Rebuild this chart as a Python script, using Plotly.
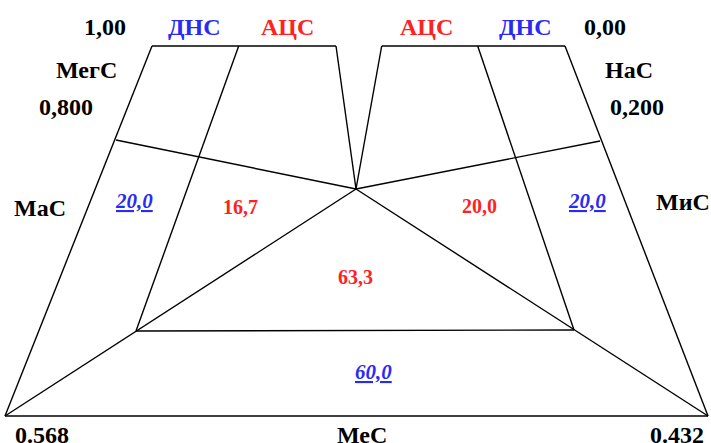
import plotly.graph_objects as go

# ---- data ----
region_names = ["ДНС-МаС", "АЦС-МаС", "АЦС-центр", "АЦС-МиС", "ДНС-МиС", "ДНС-МеС"]
region_values = [20.0, 16.7, 63.3, 20.0, 20.0, 60.0]
region_kind = ["ДНС", "АЦС", "АЦС", "АЦС", "ДНС", "ДНС"]
corner_labels = ["МегС", "НаС", "МаС", "МиС", "МеС"]
tick_labels = ["1,00", "0,800", "0,00", "0,200", "0.568", "0.432"]
header_labels = ["ДНС", "АЦС", "АЦС", "ДНС"]

# ---- geometry (diagram layout, pixel space) ----
P = {
    "TL": (152, 46), "TLm": (238.7, 46), "TLr": (336, 46),
    "TRl": (381.7, 46), "TRm": (477.7, 46), "TR": (565, 46),
    "BL": (5, 416), "BR": (708, 416), "C": (356, 189),
    "IL": (136, 331), "IR": (574, 330),
    "ML": (116, 140), "MR": (600, 141),
}
segments = [
    ("TL", "TLr"), ("TRl", "TR"),
    ("TL", "BL"), ("TR", "BR"), ("BL", "BR"),
    ("TLm", "IL"), ("TRm", "IR"),
    ("TLr", "C"), ("TRl", "C"),
    ("ML", "C"), ("MR", "C"),
    ("C", "BL"), ("C", "BR"), ("IL", "IR"),
]

fig = go.Figure()
xs, ys = [], []
for a, b in segments:
    xs += [P[a][0], P[b][0], None]
    ys += [P[a][1], P[b][1], None]
fig.add_trace(go.Scatter(x=xs, y=ys, mode="lines",
                         line=dict(color="black", width=1.4),
                         hoverinfo="skip", showlegend=False))

RED = "#ff2222"
BLUE = "#2a2af5"
FONT = "Liberation Serif, Times New Roman, serif"

def txt(x, y, s, color="black", size=24):
    fig.add_annotation(x=x, y=y, text=s, showarrow=False,
                       font=dict(family=FONT, size=size, color=color),
                       xanchor="center", yanchor="middle")

# region values
val_pos = [(134, 201), (240, 207), (355, 277), (479, 206), (587, 201), (373, 372)]
for (x, y), v, k in zip(val_pos, region_values, region_kind):
    s = f"{v:.1f}".replace(".", ",")
    if k == "ДНС":
        txt(x, y, f"<b><i><u>{s}</u></i></b>", BLUE, 21)
    else:
        txt(x, y, f"<b>{s}</b>", RED, 20)

# headers
head_pos = [(194, 27), (287, 27), (426, 27), (525, 27)]
for (x, y), s in zip(head_pos, header_labels):
    txt(x, y, f"<b>{s}</b>", BLUE if s == "ДНС" else RED, 24)

# corner labels
corner_pos = [(86, 70), (629, 70), (40, 208), (683, 202), (362, 435)]
for (x, y), s in zip(corner_pos, corner_labels):
    txt(x, y, f"<b>{s}</b>", "black", 24)

# tick labels
tick_pos = [(105, 27), (66, 107), (605, 27), (637, 107), (42, 435), (677, 435)]
for (x, y), s in zip(tick_pos, tick_labels):
    txt(x, y, f"<b>{s}</b>", "black", 24)

fig.update_xaxes(range=[0, 711], visible=False, fixedrange=True)
fig.update_yaxes(range=[443, 0], visible=False, fixedrange=True)
fig.update_layout(width=711, height=443, margin=dict(l=0, r=0, t=0, b=0),
                  plot_bgcolor="white", paper_bgcolor="white")
fig.write_html("out.html", config={"displayModeBar": False},
               post_script="document.body.style.margin='0';document.body.style.overflow='hidden';")
